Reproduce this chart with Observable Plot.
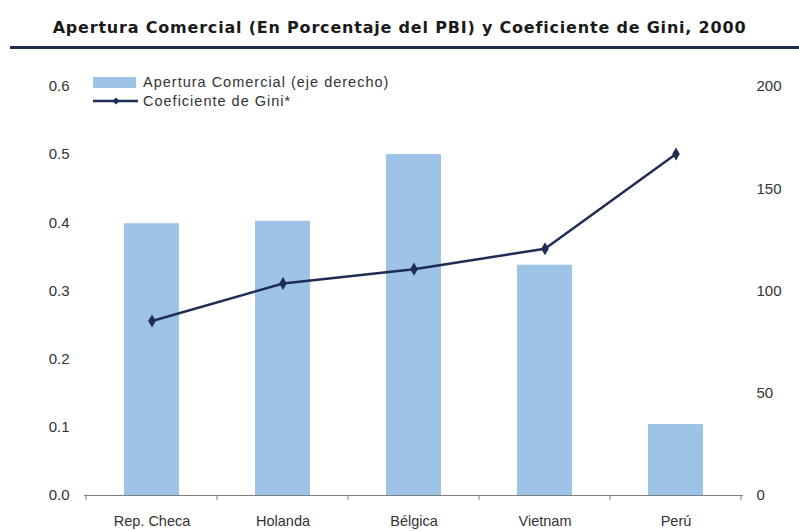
<!DOCTYPE html>
<html>
<head>
<meta charset="utf-8">
<script src="https://cdn.jsdelivr.net/npm/d3@7"></script>
<script src="https://cdn.jsdelivr.net/npm/@observablehq/plot@0.6"></script>
<style>
  html, body { margin: 0; padding: 0; background: #fff; }
  #wrap { position: relative; width: 799px; height: 531px; overflow: hidden; }
  #title { position: absolute; left: 0; top: 18px; width: 799px; text-align: center;
           font-family: "DejaVu Sans", sans-serif; font-weight: bold; font-size: 16px; letter-spacing: 0.8px; color: #1a1a1a; white-space: nowrap; }
  #rule { position: absolute; left: 10px; top: 46px; width: 789px; height: 3px; background: #1f2d55; }
  .leg { position: absolute; left: 93px; font-family: "Liberation Sans", Arial, sans-serif; font-size: 14.5px; letter-spacing: 1px; color: #333; white-space: nowrap; display: flex; align-items: center; height: 14px; }
  .leg svg { margin-right: 5px; }
</style>
</head>
<body>
<div id="wrap">
  <div id="chart"></div>
  <div id="title">Apertura Comercial (En Porcentaje del PBI) y Coeficiente de Gini, 2000</div>
  <div id="rule"></div>
  <div class="leg" style="top:75px;"><svg width="45" height="12"><rect x="0" y="1" width="43" height="11" fill="#9dc3e6"></rect></svg>Apertura Comercial (eje derecho)</div>
  <div class="leg" style="top:94px;"><svg width="45" height="12"><line x1="0" x2="45" y1="6" y2="6" stroke="#1f2d55" stroke-width="2.5"></line><path d="M23,2.5 L26.5,6 L23,9.5 L19.5,6 Z" fill="#1f2d55"></path></svg>Coeficiente de Gini*</div>
</div>
<script>
const categories = ["Rep. Checa", "Holanda", "Bélgica", "Vietnam", "Perú"];
const apertura = [132.9, 134.1, 166.7, 112.6, 34.7];   // eje derecho (0-200)
const gini = [0.256, 0.311, 0.332, 0.362, 0.501];      // eje izquierdo (0-0.6)
const leftTicks = [0, 0.1, 0.2, 0.3, 0.4, 0.5, 0.6];
const rightTicks = [0, 50, 100, 150, 200];
const leftMax = 0.6, rightMax = 200;
const k = leftMax / rightMax;

const rows = categories.map((c, i) => ({cat: c, ap: apertura[i], gini: gini[i]}));

const plot = Plot.plot({
  width: 799,
  height: 531,
  marginLeft: 84,
  marginRight: 56,
  marginTop: 86,
  marginBottom: 36,
  style: {fontFamily: "'Liberation Sans', Arial, sans-serif", fontSize: "15px", color: "#333", background: "#fff"},
  x: {domain: categories, paddingInner: 0.58, paddingOuter: 0.29},
  y: {domain: [0, leftMax]},
  marks: [
    Plot.barY(rows, {x: "cat", y: d => d.ap * k, fill: "#9dc3e6"}),
    Plot.ruleY([0], {stroke: "#808080", strokeWidth: 1}),
    Plot.line(rows, {x: "cat", y: "gini", stroke: "#1f2d55", strokeWidth: 2.5}),
    Plot.dot(rows, {x: "cat", y: "gini", symbol: "diamond", r: 4, fill: "#1f2d55"}),
    Plot.axisY(leftTicks, {anchor: "left", tickSize: 0, tickPadding: 15, tickFormat: d3.format(".1f"), label: null}),
    Plot.axisY(rightTicks.map(v => v * k), {anchor: "right", tickSize: 0, tickPadding: 13, tickFormat: d => String(Math.round(d / k)), label: null}),
    Plot.axisX({anchor: "bottom", tickSize: 0, tickPadding: 20, fontSize: 14.5, label: null})
  ]
});
document.getElementById("chart").appendChild(plot);

// category boundary ticks on the x axis
const sx = plot.scale("x");
const sy = plot.scale("y");
const y0 = sy.apply(0);
const half = (sx.step - sx.bandwidth) / 2;
const bounds = categories.map(c => sx.apply(c) - half).concat([sx.apply(categories[categories.length - 1]) + sx.bandwidth + half]);
d3.select(plot).append("g")
  .selectAll("line").data(bounds).join("line")
  .attr("x1", d => d).attr("x2", d => d)
  .attr("y1", y0).attr("y2", y0 + 5)
  .attr("stroke", "#808080").attr("stroke-width", 1);
</script>
</body>
</html>
